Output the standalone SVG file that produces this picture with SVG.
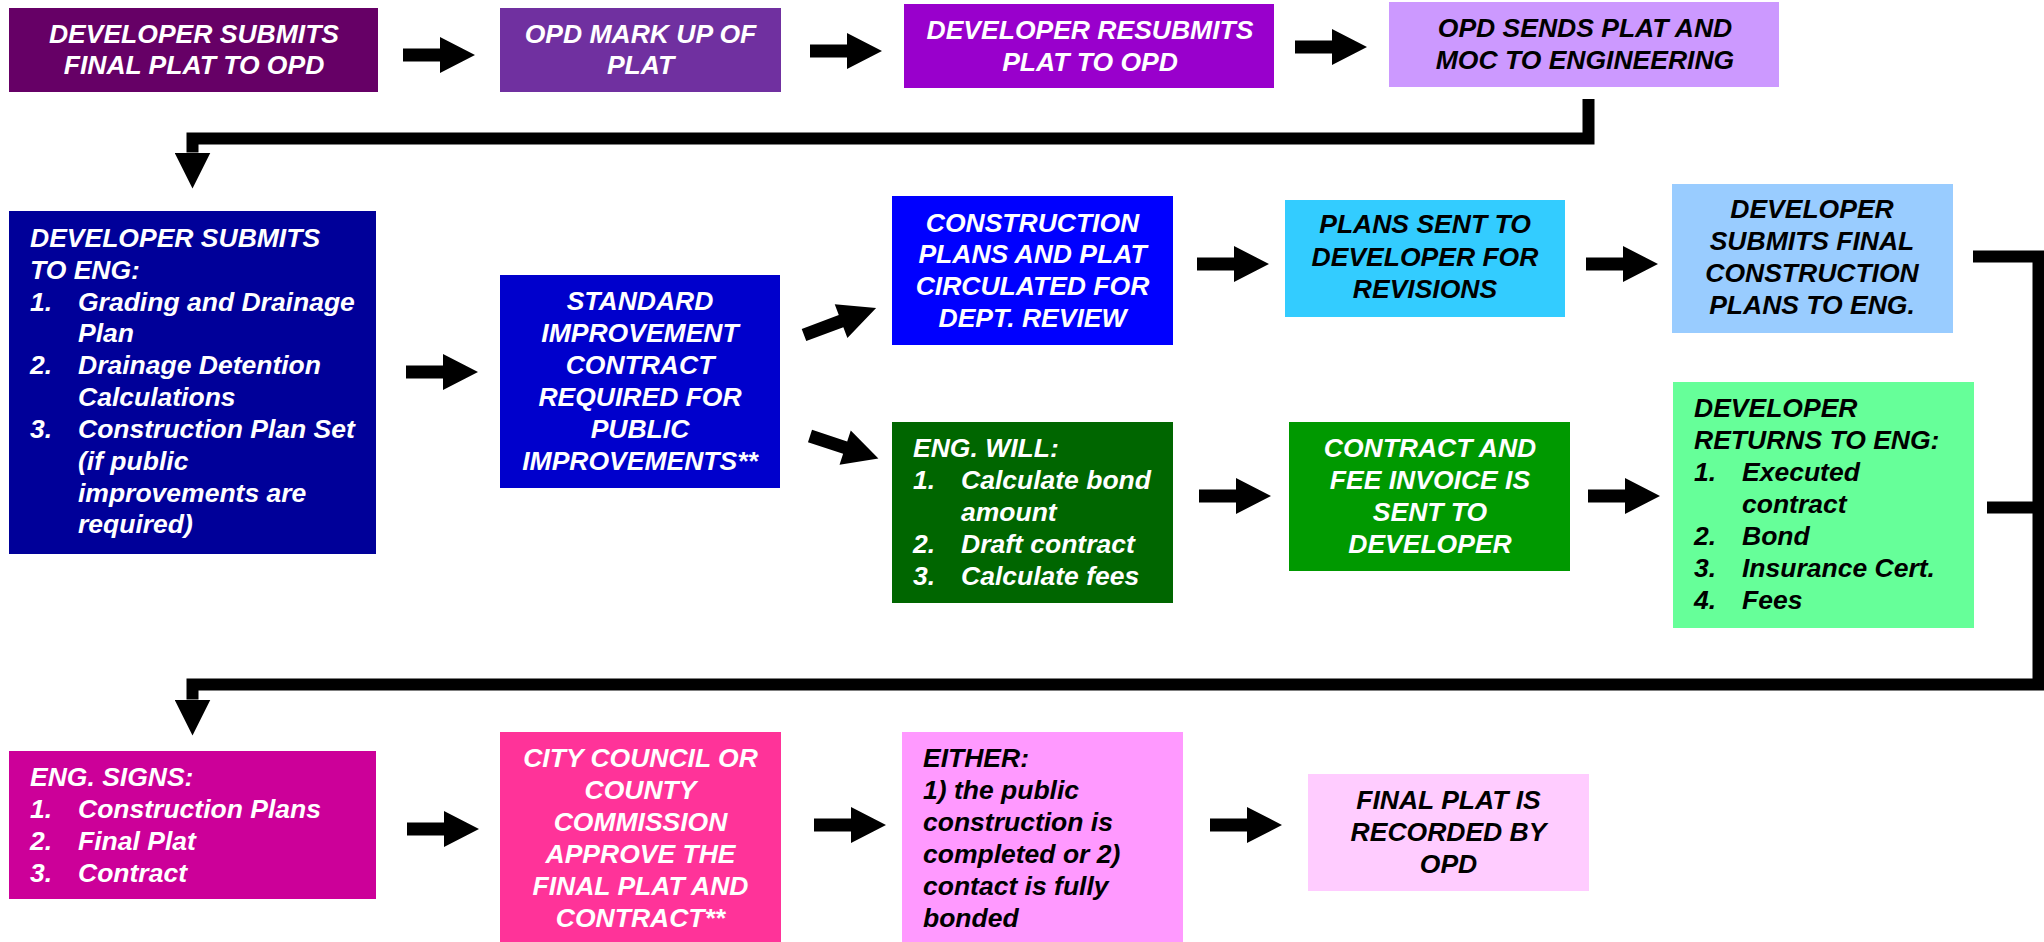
<svg xmlns="http://www.w3.org/2000/svg" xmlns:xlink="http://www.w3.org/1999/xlink" width="2044" height="942" viewBox="0 0 2044 942">
<style>
text{font-family:"Liberation Sans",Arial,sans-serif;font-weight:bold;font-style:italic;font-size:26.5px}
.w{fill:#fff}.k{fill:#000}
.c{text-anchor:middle}
.ln{fill:none;stroke:#000;stroke-width:12;stroke-linejoin:miter;stroke-linecap:butt}
.ba{fill:#000}
</style>
<defs>
<path id="ba" d="M0,-6.5 H37 V-18 L72,0 L37,18 V6.5 H0 Z"/>
<marker id="tri" markerUnits="userSpaceOnUse" viewBox="0 0 36 36" refX="0" refY="18" markerWidth="36" markerHeight="36" orient="auto">
<path d="M0,0 L36,18 L0,36 Z" fill="#000"/>
</marker>
</defs>
<rect width="2044" height="942" fill="#fff"/>

<g id="n1"><rect x="9" y="8" width="369" height="84" fill="#660066"/>
<text class="w c" x="194" y="43">DEVELOPER SUBMITS</text><text class="w c" x="194" y="74">FINAL PLAT TO OPD</text></g>

<g id="n2"><rect x="500" y="8" width="281" height="84" fill="#7030A0"/>
<text class="w c" x="640.5" y="43">OPD MARK UP OF</text><text class="w c" x="640.5" y="74">PLAT</text></g>

<g id="n3"><rect x="904" y="4" width="370" height="84" fill="#9900CC"/>
<text class="w c" x="1090" y="39">DEVELOPER RESUBMITS</text><text class="w c" x="1090" y="71">PLAT TO OPD</text></g>

<g id="n4"><rect x="1389" y="2" width="390" height="85" fill="#CC99FF"/>
<text class="k c" x="1585" y="37">OPD SENDS PLAT AND</text><text class="k c" x="1585" y="69">MOC TO ENGINEERING</text></g>

<g id="n5"><rect x="9" y="211" width="367" height="343" fill="#000099"/>
<text class="w" x="30" y="247">DEVELOPER SUBMITS</text>
<text class="w" x="30" y="279">TO ENG:</text>
<text class="w" x="30" y="311">1.</text><text class="w" x="78" y="311">Grading and Drainage</text>
<text class="w" x="78" y="342">Plan</text>
<text class="w" x="30" y="374">2.</text><text class="w" x="78" y="374">Drainage Detention</text>
<text class="w" x="78" y="406">Calculations</text>
<text class="w" x="30" y="438">3.</text><text class="w" x="78" y="438">Construction Plan Set</text>
<text class="w" x="78" y="470">(if public</text>
<text class="w" x="78" y="502">improvements are</text>
<text class="w" x="78" y="533">required)</text></g>

<g id="n6"><rect x="500" y="275" width="280" height="213" fill="#0000CC"/>
<text class="w c" x="640" y="310">STANDARD</text>
<text class="w c" x="640" y="342">IMPROVEMENT</text>
<text class="w c" x="640" y="374">CONTRACT</text>
<text class="w c" x="640" y="406">REQUIRED FOR</text>
<text class="w c" x="640" y="438">PUBLIC</text>
<text class="w c" x="640" y="470">IMPROVEMENTS**</text></g>

<g id="n7"><rect x="892" y="196" width="281" height="149" fill="#0000FF"/>
<text class="w c" x="1032.5" y="232">CONSTRUCTION</text>
<text class="w c" x="1032.5" y="263">PLANS AND PLAT</text>
<text class="w c" x="1032.5" y="295">CIRCULATED FOR</text>
<text class="w c" x="1032.5" y="327">DEPT. REVIEW</text></g>

<g id="n8"><rect x="1285" y="200" width="280" height="117" fill="#33CCFF"/>
<text class="k c" x="1425" y="233">PLANS SENT TO</text>
<text class="k c" x="1425" y="266">DEVELOPER FOR</text>
<text class="k c" x="1425" y="298">REVISIONS</text></g>

<g id="n9"><rect x="1672" y="184" width="281" height="149" fill="#99CCFF"/>
<text class="k c" x="1812" y="218">DEVELOPER</text>
<text class="k c" x="1812" y="250">SUBMITS FINAL</text>
<text class="k c" x="1812" y="282">CONSTRUCTION</text>
<text class="k c" x="1812" y="314">PLANS TO ENG.</text></g>

<g id="n10"><rect x="892" y="422" width="281" height="181" fill="#006600"/>
<text class="w" x="913" y="457">ENG. WILL:</text>
<text class="w" x="913" y="489">1.</text><text class="w" x="961" y="489">Calculate bond</text>
<text class="w" x="961" y="521">amount</text>
<text class="w" x="913" y="553">2.</text><text class="w" x="961" y="553">Draft contract</text>
<text class="w" x="913" y="585">3.</text><text class="w" x="961" y="585">Calculate fees</text></g>

<g id="n11"><rect x="1289" y="422" width="281" height="149" fill="#009900"/>
<text class="w c" x="1430" y="457">CONTRACT AND</text>
<text class="w c" x="1430" y="489">FEE INVOICE IS</text>
<text class="w c" x="1430" y="521">SENT TO</text>
<text class="w c" x="1430" y="553">DEVELOPER</text></g>

<g id="n12"><rect x="1673" y="382" width="301" height="246" fill="#66FF99"/>
<text class="k" x="1694" y="417">DEVELOPER</text>
<text class="k" x="1694" y="449">RETURNS TO ENG:</text>
<text class="k" x="1694" y="481">1.</text><text class="k" x="1742" y="481">Executed</text>
<text class="k" x="1742" y="513">contract</text>
<text class="k" x="1694" y="545">2.</text><text class="k" x="1742" y="545">Bond</text>
<text class="k" x="1694" y="577">3.</text><text class="k" x="1742" y="577">Insurance Cert.</text>
<text class="k" x="1694" y="609">4.</text><text class="k" x="1742" y="609">Fees</text></g>

<g id="n13"><rect x="9" y="751" width="367" height="148" fill="#CC0099"/>
<text class="w" x="30" y="786">ENG. SIGNS:</text>
<text class="w" x="30" y="818">1.</text><text class="w" x="78" y="818">Construction Plans</text>
<text class="w" x="30" y="850">2.</text><text class="w" x="78" y="850">Final Plat</text>
<text class="w" x="30" y="882">3.</text><text class="w" x="78" y="882">Contract</text></g>

<g id="n14"><rect x="500" y="732" width="281" height="215" fill="#FF3399"/>
<text class="w c" x="640.5" y="767">CITY COUNCIL OR</text>
<text class="w c" x="640.5" y="799">COUNTY</text>
<text class="w c" x="640.5" y="831">COMMISSION</text>
<text class="w c" x="640.5" y="863">APPROVE THE</text>
<text class="w c" x="640.5" y="895">FINAL PLAT AND</text>
<text class="w c" x="640.5" y="927">CONTRACT**</text></g>

<g id="n15"><rect x="902" y="732" width="281" height="215" fill="#FF99FF"/>
<text class="k" x="923" y="767">EITHER:</text>
<text class="k" x="923" y="799">1) the public</text>
<text class="k" x="923" y="831">construction is</text>
<text class="k" x="923" y="863">completed or 2)</text>
<text class="k" x="923" y="895">contact is fully</text>
<text class="k" x="923" y="927">bonded</text></g>

<g id="n16"><rect x="1308" y="774" width="281" height="117" fill="#FFCCFF"/>
<text class="k c" x="1448.5" y="809">FINAL PLAT IS</text>
<text class="k c" x="1448.5" y="841">RECORDED BY</text>
<text class="k c" x="1448.5" y="873">OPD</text></g>

<g id="connectors">
<use xlink:href="#ba" class="ba" transform="translate(403,55)"/>
<use xlink:href="#ba" class="ba" transform="translate(810,51)"/>
<use xlink:href="#ba" class="ba" transform="translate(1295,47)"/>
<use xlink:href="#ba" class="ba" transform="translate(406,372)"/>
<use xlink:href="#ba" class="ba" transform="translate(804,335) rotate(-20.6) scale(1.07,1)"/>
<use xlink:href="#ba" class="ba" transform="translate(810,436) rotate(18.2)"/>
<use xlink:href="#ba" class="ba" transform="translate(1197,264)"/>
<use xlink:href="#ba" class="ba" transform="translate(1586,264)"/>
<use xlink:href="#ba" class="ba" transform="translate(1199,496)"/>
<use xlink:href="#ba" class="ba" transform="translate(1588,496)"/>
<use xlink:href="#ba" class="ba" transform="translate(407,829)"/>
<use xlink:href="#ba" class="ba" transform="translate(814,825)"/>
<use xlink:href="#ba" class="ba" transform="translate(1210,825)"/>
<path class="ln" d="M1588.5,99 V138.5 H192.5 V152.5" marker-end="url(#tri)"/>
<path class="ln" d="M1973,256.5 H2038.5 V684.5 H192.5 V699.5" marker-end="url(#tri)"/>
<path class="ln" d="M1987,507.5 H2038"/>
</g>
</svg>
